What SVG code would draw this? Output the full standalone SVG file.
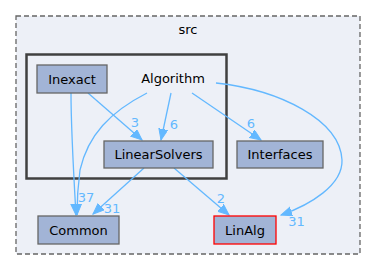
<svg xmlns="http://www.w3.org/2000/svg" width="376" height="271" viewBox="0 0 376 271">
  <style>
    .lbl { font-family: "DejaVu Sans", sans-serif; font-size: 13px; fill: #000000; text-anchor: middle; }
    .elbl { font-family: "DejaVu Sans", sans-serif; font-size: 13px; fill: #63b8ff; text-anchor: middle; }
    .node { fill: #a2b4d6; stroke: #666666; stroke-width: 1.3; }
    .edge { fill: none; stroke: #63b8ff; stroke-width: 1.3; marker-end: url(#arrow); }
  </style>
  <defs>
    <marker id="arrow" markerUnits="userSpaceOnUse" markerWidth="12" markerHeight="10" refX="11" refY="4.5" orient="auto">
      <path d="M0,0 L11,4.5 L0,9 z" fill="#63b8ff" stroke="#63b8ff" stroke-width="1"/>
    </marker>
  </defs>

  <rect width="376" height="271" fill="#ffffff"/>

  <!-- src directory -->
  <g id="cluster_src">
    <rect x="16" y="16" width="344" height="238" fill="#edf0f7" stroke="#666666" stroke-width="1.3" stroke-dasharray="5,3"/>
    <text class="lbl" x="188" y="34">src</text>
  </g>

  <!-- Algorithm directory -->
  <g id="cluster_Algorithm">
    <rect x="26.5" y="54.5" width="200" height="124" fill="#edf0f7" stroke="#404040" stroke-width="2.5"/>
    <text class="lbl" x="173" y="83">Algorithm</text>
  </g>

  <g id="connectors">
    <!-- Inexact -> Common -->
    <path class="edge" d="M71,93 C71,130 74,180 76,215"/>
    <!-- Algorithm -> Common (37) -->
    <path class="edge" d="M147,93 C110,112 88,135 80,170 C78,185 77,200 77,215"/>
    <text class="elbl" x="86" y="202">37</text>
    <!-- Inexact -> LinearSolvers (3) -->
    <path class="edge" d="M88,93 L142,140"/>
    <text class="elbl" x="135" y="127">3</text>
    <!-- Algorithm -> LinearSolvers (6) -->
    <path class="edge" d="M171,93 L161,140"/>
    <text class="elbl" x="174" y="129">6</text>
    <!-- Algorithm -> Interfaces (6) -->
    <path class="edge" d="M192,93 L261,140"/>
    <text class="elbl" x="251" y="128">6</text>
    <!-- Algorithm -> LinAlg (31) -->
    <path class="edge" d="M216,83 C280,90 340,120 342,160 C343,185 310,205 281,215"/>
    <text class="elbl" x="296.5" y="225.5">31</text>
    <!-- LinearSolvers -> Common (31) -->
    <path class="edge" d="M144,168 L93,214"/>
    <text class="elbl" x="112" y="212.5">31</text>
    <!-- LinearSolvers -> LinAlg (2) -->
    <path class="edge" d="M174,168 L229,215"/>
    <text class="elbl" x="221" y="203">2</text>
  </g>

  <g id="node_Inexact">
    <rect class="node" x="37" y="65" width="70" height="28"/>
    <text class="lbl" x="72" y="83.5">Inexact</text>
  </g>
  <g id="node_LinearSolvers">
    <rect class="node" x="104" y="141" width="109" height="27"/>
    <text class="lbl" x="158.5" y="159">LinearSolvers</text>
  </g>
  <g id="node_Interfaces">
    <rect class="node" x="237" y="141" width="86" height="27"/>
    <text class="lbl" x="280" y="159">Interfaces</text>
  </g>
  <g id="node_Common">
    <rect class="node" x="38" y="216" width="81" height="28"/>
    <text class="lbl" x="78.5" y="234.5">Common</text>
  </g>
  <g id="node_LinAlg">
    <rect x="214" y="216" width="62" height="28" fill="#a2b4d6" stroke="#ff0000" stroke-width="1.3"/>
    <text class="lbl" x="245" y="234.5">LinAlg</text>
  </g>
</svg>
